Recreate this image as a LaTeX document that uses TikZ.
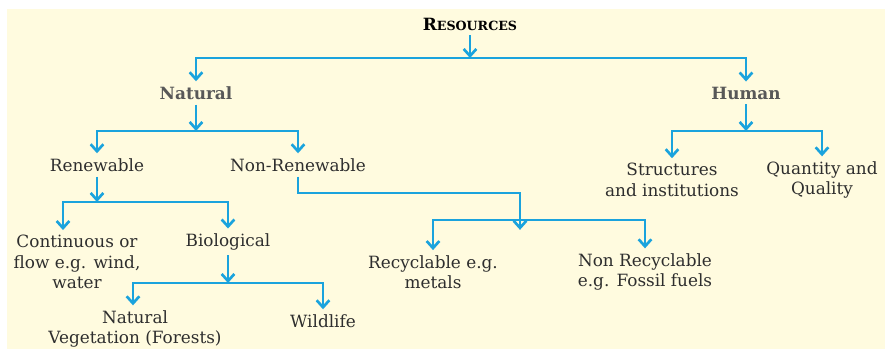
\documentclass[tikz,border=0pt]{standalone}
\usepackage{fontspec}
\setmainfont{DejaVu Serif}
\usepackage{tikz}
\usetikzlibrary{arrows.meta}

\definecolor{paper}{HTML}{FFFBDF}
\definecolor{flow}{HTML}{1AA3DD}
\definecolor{ink}{HTML}{2E2E2E}

\tikzset{
  item/.style={text=ink, inner sep=3.5pt, align=center, font=\fontsize{12}{14.5}\selectfont},
  head/.style={item, font=\fontsize{12}{14.5}\selectfont\bfseries, text=ink!80},
  link/.style={draw=flow, line width=1.9pt, ->},
  >={Straight Barb[length=5pt, width=9pt]}
}

\begin{document}
\begin{tikzpicture}[x=0.025cm, y=-0.025cm]
        % the page and the paper
        \useasboundingbox (0,0) rectangle (885,349);
        \fill[white] (0,0) rectangle (885,349);
        \fill[paper] (7,9) rectangle (885,349);

        % the texts
        \node[head, text=black] (res) at (470,24) {R{\small ESOURCES}};
        \node[head] (nat) at (196,93) {Natural};
        \node[head] (hum) at (746,93) {Human};
        \node[item] (ren) at (97,165) {Renewable};
        \node[item] (nonren) at (298,165) {Non-Renewable};
        \node[item] (struc) at (672,180) {Structures\\and institutions};
        \node[item] (quant) at (822,180) {Quantity and\\Quality};
        \node[item] (cont) at (77,262) {Continuous or\\flow e.g. wind,\\water};
        \node[item] (bio) at (228,242) {Biological};
        \node[item] (recy) at (433,272) {Recyclable e.g.\\metals};
        \node[item] (nonrecy) at (645,272) {Non Recyclable\\e.g. Fossil fuels};
        \node[item] (veg) at (135,329) {Natural\\Vegetation (Forests)};
        \node[item] (wild) at (323,321) {Wildlife};

        % the points where the lines split (here I just create coordinates to use them
        % later on as the corners of the arrows
        \coordinate (s1) at (470,58);
        \coordinate (s2) at (196,131);
        \coordinate (s3) at (746,131);
        \coordinate (s4) at (97,202);
        \coordinate (c1) at (520,193);
        \coordinate (s5) at (520,220);
        \coordinate (s6) at (228,283);

        % draw the arrows
        \draw[link] (res) -- (res |- s1);
        \draw[link] (s1) -| (nat);
        \draw[link] (s1) -| (hum);

        \draw[link] (nat) -- (nat |- s2);
        \draw[link] (s2) -| (ren);
        \draw[link] (s2) -| (nonren);

        \draw[link] (hum) -- (hum |- s3);
        \draw[link] (s3) -| (struc);
        \draw[link] (s3) -| (quant);

        \draw[link] (ren) -- (ren |- s4);
        \draw[link] (s4) -| (cont.north -| 63,0);
        \draw[link] (s4) -| (bio);

        \draw[link] (nonren) |- (c1) -- ([yshift=-7]s5);
        \draw[link] (s5) -| (recy);
        \draw[link] (s5) -| (nonrecy);

        \draw[link] (bio) -- (bio |- s6);
        \draw[link] (s6) -| (veg.north -| 133,0);
        \draw[link] (s6) -| (wild);

    \end{tikzpicture}
\end{document}
